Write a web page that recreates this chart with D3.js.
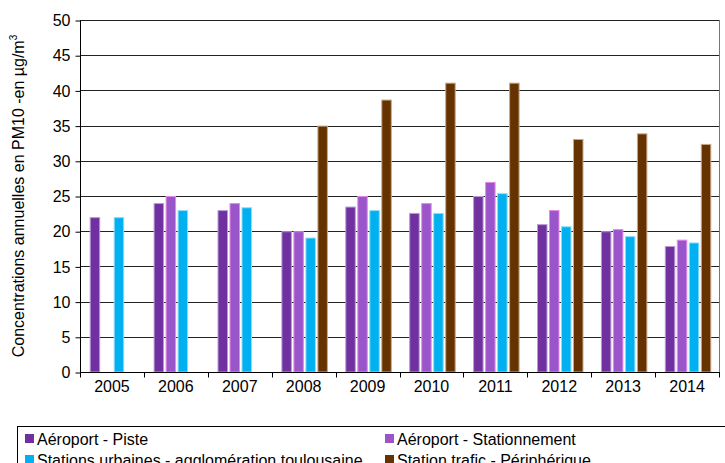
<!DOCTYPE html>
<html><head><meta charset="utf-8">
<script src="https://cdn.jsdelivr.net/npm/d3@7"></script>
<style>
html,body{margin:0;padding:0;background:#fff;}
svg{display:block;font-family:"Liberation Sans",Arial,sans-serif;}
</style></head>
<body>
<svg id="chart" width="725" height="463"></svg>
<script>
const years = ["2005","2006","2007","2008","2009","2010","2011","2012","2013","2014"];
const seriesNames = ["Aéroport - Piste","Aéroport - Stationnement","Stations urbaines - agglomération toulousaine","Station trafic - Périphérique"];
const piste = [22, 24, 23, 20, 23.5, 22.6, 25, 21, 20, 17.9];
const stationnement = [null, 25, 24, 20, 25, 24, 27, 23, 20.3, 18.8];
const urbaines = [22, 23, 23.4, 19.1, 23, 22.6, 25.4, 20.7, 19.3, 18.4];
const trafic = [null, null, null, 35, 38.7, 41.1, 41.1, 33.1, 33.9, 32.4];
const yTicks = [0,5,10,15,20,25,30,35,40,45,50];
const colors = ["#7030A0","#9B55CB","#00B0F0","#663300"];
const strokes = ["#b99ad6","#e38ae6","#8fdcf7","#c9a88a"];

const allSeries = [piste, stationnement, urbaines, trafic];
const svg = d3.select("#chart");
const L = 80, R = 719, T = 20, B = 372;
const FS = 16;

const x0 = d3.scaleBand().domain(years).range([L, R]).padding(0);
const x1 = d3.scaleBand().domain(d3.range(4)).range([9.7, 56.2]).paddingInner(0.125).paddingOuter(0);
const y = d3.scaleLinear().domain([0, 50]).range([B, T]);

// gridlines
svg.append("g").selectAll("line").data(yTicks.filter(d => d > 0)).join("line")
  .attr("x1", L).attr("x2", R)
  .attr("y1", d => Math.round(y(d)) + 0.5).attr("y2", d => Math.round(y(d)) + 0.5)
  .attr("stroke", "#222").attr("stroke-width", 1);

// right border
svg.append("line").attr("x1", R + 0.5).attr("x2", R + 0.5).attr("y1", T).attr("y2", B)
  .attr("stroke", "#777").attr("stroke-width", 1);

// bars
const g = svg.append("g");
years.forEach((yr, i) => {
  allSeries.forEach((s, k) => {
    const v = s[i];
    if (v == null) return;
    g.append("rect")
      .attr("x", x0(yr) + x1(k) + 0.5)
      .attr("y", y(v) + 0.5)
      .attr("width", x1.bandwidth() - 1)
      .attr("height", B - y(v) - 0.5)
      .attr("fill", colors[k])
      .attr("stroke", strokes[k]).attr("stroke-width", 1);
  });
});

// y axis
const yAxis = d3.axisLeft(y).tickValues(yTicks).tickSize(5).tickPadding(5).tickFormat(d3.format("d"));
const ya = svg.append("g").attr("transform", `translate(${L + 0.5},0.5)`).call(yAxis);
ya.select(".domain").attr("d", `M0,${T}V${B}`).attr("stroke", "#000");
ya.selectAll(".tick line").attr("stroke", "#000");
ya.selectAll("text").attr("font-size", FS).attr("fill", "#000").attr("font-family", "Liberation Sans, Arial, sans-serif");

// x axis
const xa = svg.append("g").attr("transform", `translate(0,${B + 0.5})`);
xa.append("line").attr("x1", L).attr("x2", R + 1).attr("y1", 0).attr("y2", 0).attr("stroke", "#000");
const bounds = years.map(d => x0(d)).concat([R]);
xa.selectAll("line.tk").data(bounds).join("line").attr("class", "tk")
  .attr("x1", d => Math.round(d) + 0.5).attr("x2", d => Math.round(d) + 0.5)
  .attr("y1", 0).attr("y2", 5).attr("stroke", "#000");
xa.selectAll("text").data(years).join("text")
  .attr("x", d => x0(d) + x0.bandwidth() / 2)
  .attr("y", 19)
  .attr("text-anchor", "middle")
  .attr("font-size", FS).attr("fill", "#000")
  .text(d => d);

// y label
const yl = svg.append("text")
  .attr("transform", `translate(24,${(T + B) / 2}) rotate(-90)`)
  .attr("text-anchor", "middle")
  .attr("font-size", FS).attr("fill", "#000");
yl.append("tspan").text("Concentrations annuelles en PM10 -en µg/m");
yl.append("tspan").attr("dy", -7).attr("font-size", 10).text("3");

// legend
const lg = svg.append("g");
lg.append("rect").attr("x", 17.5).attr("y", 426.5).attr("width", 720).attr("height", 60)
  .attr("fill", "#fff").attr("stroke", "#000").attr("stroke-width", 1);
const legPos = [[25, 434], [385, 434], [25, 455], [385, 455]];
seriesNames.forEach((n, k) => {
  const [lx, ly] = legPos[k];
  lg.append("rect").attr("x", lx).attr("y", ly).attr("width", 9).attr("height", 9).attr("fill", colors[k]);
  lg.append("text").attr("x", lx + 12).attr("y", ly + 11).attr("font-size", FS).attr("fill", "#000").text(n);
});
</script>
</body></html>
